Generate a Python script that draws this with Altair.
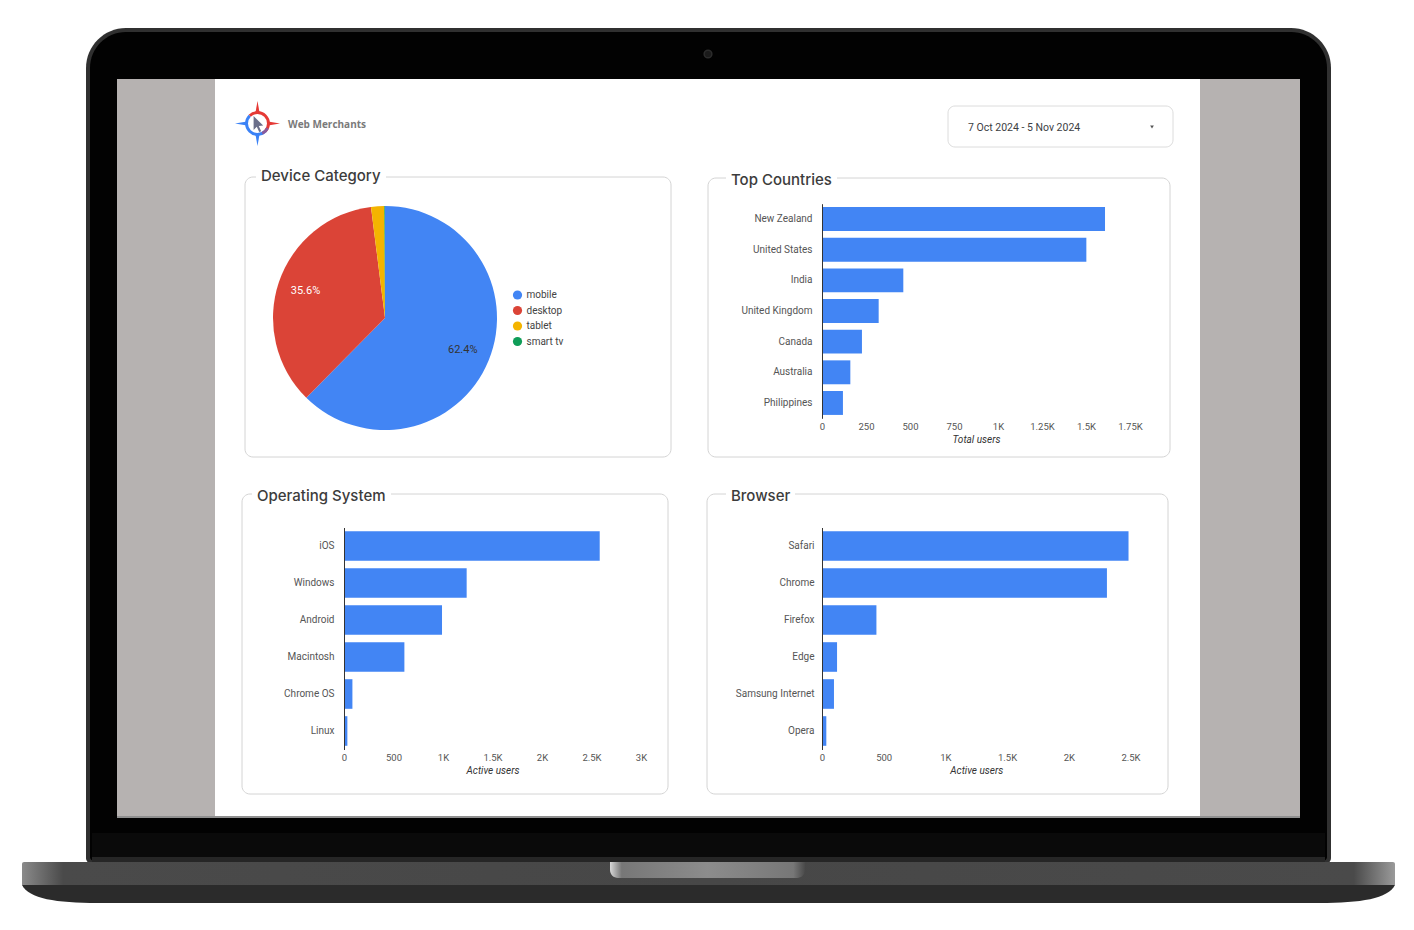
import altair as alt
import pandas as pd

# ---------------- data ----------------
devices = ["mobile", "desktop", "tablet", "smart tv"]
device_share = [62.4, 35.6, 1.9, 0.1]
device_colors = ["#4285f4", "#db4437", "#f4b400", "#0f9d58"]

countries = ["New Zealand", "United States", "India", "United Kingdom", "Canada", "Australia", "Philippines"]
country_users = [1608, 1502, 462, 322, 227, 161, 119]
country_ticks = [0, 250, 500, 750, 1000, 1250, 1500, 1750]

os_names = ["iOS", "Windows", "Android", "Macintosh", "Chrome OS", "Linux"]
os_users = [2583, 1239, 990, 610, 85, 34]
os_ticks = [0, 500, 1000, 1500, 2000, 2500, 3000]

browsers = ["Safari", "Chrome", "Firefox", "Edge", "Samsung Internet", "Opera"]
browser_users = [2484, 2309, 441, 122, 97, 35]
browser_ticks = [0, 500, 1000, 1500, 2000, 2500]

brand = "Web Merchants"
date_range = "7 Oct 2024 - 5 Nov 2024"
panel_titles = ["Device Category", "Top Countries", "Operating System", "Browser"]

# ---------------- page geometry ----------------
W, H, M = 1398, 914, 8
FONT = "Roboto"
HEAD_FONT = "Inter"
BLUE = "#4285f4"
ONE = pd.DataFrame({"k": [0]})


def px(v):
    return v - M


def box(x1, y1, x2, y2, **mark):
    return alt.Chart(ONE).mark_rect(**mark).encode(
        x=alt.value(px(x1)), x2=alt.value(px(x2)),
        y=alt.value(px(y1)), y2=alt.value(px(y2)))


def txt(x, y, text, **mark):
    mark.setdefault("font", FONT)
    mark.setdefault("baseline", "middle")
    mark.setdefault("align", "left")
    return alt.Chart(ONE).mark_text(text=text, **mark).encode(
        x=alt.value(px(x)), y=alt.value(px(y)))


def sym(x, y, shape, size, **mark):
    mark.setdefault("strokeWidth", 0)
    return alt.Chart(ONE).mark_point(shape=shape, size=size, filled=True, opacity=1, **mark).encode(
        x=alt.value(px(x)), y=alt.value(px(y)))


def arc(x, y, t1, t2, r_in, r_out, color):
    return alt.Chart(ONE).mark_arc(theta=t1, theta2=t2, innerRadius=r_in, outerRadius=r_out, color=color).encode(
        x=alt.value(px(x)), y=alt.value(px(y)))


def hgrad(stops):
    return alt.LinearGradient(gradient="linear", x1=0, x2=1, y1=0, y2=0,
                              stops=[alt.GradientStop(color=c, offset=o) for o, c in stops])


layers = []

# ---------------- laptop frame ----------------
layers += [
    box(86, 28, 1331, 864, color="#303030", cornerRadiusTopLeft=40, cornerRadiusTopRight=40,
        cornerRadiusBottomLeft=6, cornerRadiusBottomRight=6),
    box(90, 32, 1327, 861, color="#020202", cornerRadiusTopLeft=36, cornerRadiusTopRight=36,
        cornerRadiusBottomLeft=4, cornerRadiusBottomRight=4),
    box(92, 833, 1325, 857, color="#0a0a0a"),
    box(92, 857, 1325, 862, color="#262626"),
    sym(708, 54, "circle", 60, color="#1b1b1b", stroke="#2c2c2c", strokeWidth=1.5),
    box(22, 862, 1395, 885, color=hgrad([(0, "#8a8a8a"), (0.03, "#4a4a4a"), (0.5, "#474747"),
                                         (0.97, "#4a4a4a"), (1, "#9a9a9a")]),
        cornerRadiusTopLeft=2, cornerRadiusTopRight=2),
    sym(708.5, 885, "M-1,0 L1,0 C0.99,0.02 0.95,0.0262 0.89,0.0262 L-0.89,0.0262 "
                    "C-0.95,0.0262 -0.99,0.02 -1,0 Z", 1373 ** 2, color="#2b2b2b"),
    box(610, 862, 805, 878, color=hgrad([(0, "#d8d8d8"), (0.06, "#777777"), (0.5, "#8c8c8c"),
                                         (0.94, "#777777"), (1, "#4a4a4a")]),
        cornerRadiusBottomLeft=9, cornerRadiusBottomRight=9),
    box(117, 79, 1300, 817, color="#b6b2b1"),
    box(117, 816, 1300, 818, color="#8f8f8f"),
    box(215, 79, 1200, 816, color="#ffffff"),
]

# ---------------- dashboard header ----------------
layers += [
    sym(257.5, 107, "M0,-1 L0.35,1 L-0.35,1 Z", 144, color="#e53935"),
    sym(274, 123.5, "M0,-1 L0.35,1 L-0.35,1 Z", 144, color="#e53935", angle=90),
    sym(257.5, 140, "M0,-1 L0.35,1 L-0.35,1 Z", 144, color="#3b82f6", angle=180),
    sym(241, 123.5, "M0,-1 L0.35,1 L-0.35,1 Z", 144, color="#3b82f6", angle=270),
    arc(257.5, 123.5, 0, 6.2832, 0, 9.5, "#ffffff"),
    arc(257.5, 123.5, 5.5, 8.64, 9.5, 12.5, "#e53935"),
    arc(257.5, 123.5, 2.36, 5.5, 9.5, 12.5, "#3b82f6"),
    arc(257.5, 123.5, 2.0, 2.7, 9.5, 12.5, "#8a5a9a"),
    sym(258, 124, "M-0.55,-1 L0.65,0.2 L0.1,0.25 L0.4,0.9 L0.15,1 L-0.15,0.35 L-0.55,0.75 Z",
        256, color="#6b6f8a"),
    txt(288, 125, brand, font="Open Sans", fontSize=10, fontWeight="bold", color="#7a7a7a"),
    box(948, 106, 1173, 147, fill="#ffffff", stroke="#dcdcdc", strokeWidth=1, cornerRadius=7),
    txt(968, 128, date_range, fontSize=10.5, color="#3c4043"),
    sym(1152, 127, "triangle-down", 14, color="#555555"),
]

# ---------------- panels ----------------
panel_boxes = [(245, 177, 671, 457), (708, 178, 1170, 457), (242, 494, 668, 794), (707, 494, 1168, 794)]
title_spots = [(261, 176, 256, 386), (731, 180, 726, 837), (257, 496, 252, 391), (731, 496, 726, 795)]
for (x1, y1, x2, y2), title, (tx, ty, gx1, gx2) in zip(panel_boxes, panel_titles, title_spots):
    layers.append(box(x1, y1, x2, y2, fill="#ffffff", stroke="#d4d4d4", strokeWidth=1, cornerRadius=8))
    layers.append(box(gx1, ty - 8, gx2, ty + 8, color="#ffffff"))
    layers.append(txt(tx, ty, title, font=HEAD_FONT, fontSize=15, fontWeight=500, color="#3c3c3c"))

# ---------------- pie ----------------
pie_df = pd.DataFrame({"device": devices, "share": device_share, "rank": list(range(len(devices)))})
pie_base = alt.Chart(pie_df).encode(
    theta=alt.Theta("share:Q", stack=True),
    order=alt.Order("rank:Q"),
    x=alt.value(px(385)), y=alt.value(px(318)),
)
pie_arcs = pie_base.mark_arc(outerRadius=112).encode(
    color=alt.Color("device:N", scale=alt.Scale(domain=devices, range=device_colors),
                    legend=alt.Legend(orient="none", legendX=px(512.5), legendY=px(290), title=None,
                                      symbolType="circle", symbolSize=85, symbolStrokeWidth=0,
                                      labelFont=FONT, labelFontSize=10, labelColor="#444444",
                                      rowPadding=5.5, padding=0, labelOffset=4))
)
pie_text = pie_base.transform_calculate(
    lbl="datum.share >= 5 ? format(datum.share, '.1f') + '%' : ''"
).mark_text(radius=84, font=FONT, fontSize=11).encode(
    text="lbl:N",
    color=alt.condition("datum.device == 'desktop'", alt.value("#ffffff"), alt.value("#333333")),
)
layers.append(alt.layer(pie_arcs, pie_text))

# ---------------- bar panels ----------------
K_EXPR = "datum.value >= 1000 ? format(datum.value / 1000, '~g') + 'K' : format(datum.value, 'd')"


def bar_panel(names, values, ticks, x0, x1, y0, y1, inner, title, lab_pad):
    df = pd.DataFrame({"name": names, "value": values})
    return alt.Chart(df).mark_bar(color=BLUE).encode(
        x=alt.X("value:Q",
                scale=alt.Scale(domain=[ticks[0], ticks[-1]], range=[px(x0), px(x1)], nice=False),
                axis=alt.Axis(orient="bottom", offset=px(y1) - H, values=ticks, labelExpr=K_EXPR,
                              domain=False, ticks=False, tickSize=0, grid=False, zindex=2,
                              labelFlush=False, labelOverlap=False,
                              labelFont=FONT, labelFontSize=9.5, labelColor="#555555", labelPadding=3,
                              title=title, titleFont=FONT, titleFontSize=10, titleFontStyle="italic",
                              titleFontWeight="normal", titleColor="#333333", titleY=21,
                              titleBaseline="middle")),
        y=alt.Y("name:N", sort=None,
                scale=alt.Scale(domain=names, range=[px(y0), px(y1)], paddingInner=inner,
                                paddingOuter=inner / 2),
                axis=alt.Axis(orient="left", offset=-px(x0), title=None, ticks=False, tickSize=0,
                              grid=False, domainColor="#333333", domainWidth=1, zindex=2,
                              labelFont=FONT, labelFontSize=10, labelColor="#555555",
                              labelPadding=lab_pad)),
    )


layers.append(bar_panel(countries, country_users, country_ticks, 822, 1130, 203.7, 418.3, 0.22,
                        "Total users", 10))
layers.append(bar_panel(os_names, os_users, os_ticks, 344, 641, 527.5, 749.5, 0.2, "Active users", 10))
layers.append(bar_panel(browsers, browser_users, browser_ticks, 822, 1130.5, 527.5, 749.5, 0.2,
                        "Active users", 8))

chart = alt.layer(*layers).resolve_scale(
    x="independent", y="independent", color="independent", theta="independent"
).resolve_axis(
    x="independent", y="independent"
).properties(
    width=W, height=H, padding=0, background="#ffffff",
    autosize=alt.AutoSizeParams(type="none"),
).configure_view(strokeWidth=0)

chart.save("out.html", embed_options={"renderer": "svg", "actions": False})
